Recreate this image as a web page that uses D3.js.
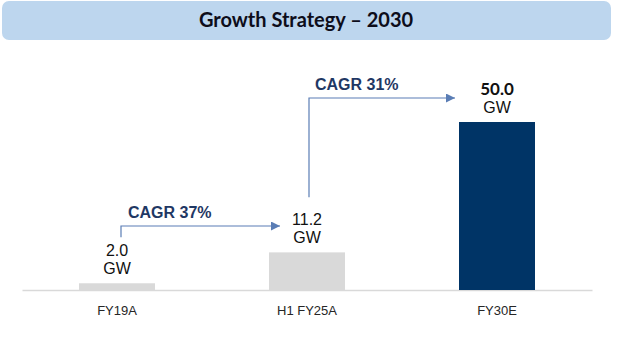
<!DOCTYPE html>
<html>
<head>
<meta charset="utf-8">
<script src="https://cdn.jsdelivr.net/npm/d3@7"></script>
<style>
  html, body { margin: 0; padding: 0; background: #ffffff; }
  svg { display: block; }
</style>
</head>
<body>
<svg id="chart" width="620" height="342"></svg>
<script>
// ---- data ----
const categories = ["FY19A", "H1 FY25A", "FY30E"];
const values = [2.0, 11.2, 50.0];
const valueLabels = ["2.0", "11.2", "50.0"];
const unitLabel = "GW";
const cagrLabels = ["CAGR 37%", "CAGR 31%"];
const title = "Growth Strategy \u2013 2030";

// ---- layout ----
const svg = d3.select("#chart");
const W = 620, H = 342;
const baseY = 290, topY = 122;

const x = d3.scaleBand().domain(categories).range([22, 592]).paddingInner(0.6).paddingOuter(0.3);
const y = d3.scaleLinear().domain([0, 50]).range([baseY, topY]);

const barColors = ["#d9d9d9", "#d9d9d9", "#003466"];
const navy = "#1f3864";
const arrowColor = "#5a7db5";

// title box
svg.append("rect")
  .attr("x", 2).attr("y", 1).attr("width", 609).attr("height", 39)
  .attr("rx", 7).attr("fill", "#bdd6ee");
svg.append("text")
  .attr("x", 306).attr("y", 27)
  .attr("text-anchor", "middle")
  .attr("font-family", "Lato, 'Open Sans', sans-serif")
  .attr("font-weight", 700)
  .attr("font-size", 20)
  .attr("fill", "#0d0d1a")
  .text(title);

// arrow marker
const defs = svg.append("defs");
defs.append("marker")
  .attr("id", "ah").attr("viewBox", "0 0 10 10")
  .attr("refX", 10).attr("refY", 5)
  .attr("markerWidth", 9).attr("markerHeight", 9)
  .attr("markerUnits", "userSpaceOnUse")
  .attr("orient", "auto")
  .append("path").attr("d", "M0,0 L10,5 L0,10 Z").attr("fill", arrowColor);

// baseline axis
const axis = d3.axisBottom(x).tickSize(0).tickPadding(16);
const gAxis = svg.append("g").attr("transform", `translate(0,${baseY})`).call(axis);
gAxis.select(".domain").attr("stroke", "#d9d9d9").attr("stroke-width", 1.5);
gAxis.selectAll(".tick text")
  .attr("font-family", "Arial, 'Liberation Sans', sans-serif")
  .attr("font-size", 13)
  .attr("fill", "#262626");

// bars
svg.selectAll("rect.bar").data(values).enter().append("rect")
  .attr("class", "bar")
  .attr("x", (d, i) => x(categories[i]))
  .attr("y", d => y(d))
  .attr("width", x.bandwidth())
  .attr("height", d => baseY - y(d))
  .attr("fill", (d, i) => barColors[i]);

// value labels
const cx = i => x(categories[i]) + x.bandwidth() / 2;
svg.selectAll("text.val").data(values).enter().append("text")
  .attr("class", "val")
  .attr("x", (d, i) => cx(i))
  .attr("y", d => y(d) - 27)
  .attr("text-anchor", "middle")
  .attr("font-family", (d, i) => i === 2 ? "Lato, sans-serif" : "Arial, 'Liberation Sans', sans-serif")
  .attr("font-weight", (d, i) => i === 2 ? 700 : 400)
  .attr("font-size", (d, i) => i === 2 ? 17 : 16)
  .attr("fill", "#111")
  .text((d, i) => valueLabels[i]);
svg.selectAll("text.unit").data(values).enter().append("text")
  .attr("class", "unit")
  .attr("x", (d, i) => cx(i))
  .attr("y", d => y(d) - 9)
  .attr("text-anchor", "middle")
  .attr("font-family", "Arial, 'Liberation Sans', sans-serif")
  .attr("font-size", 16)
  .attr("fill", "#111")
  .text(unitLabel);

// CAGR arrows
const arrows = [
  { x0: cx(0) + 4, yStart: y(values[0]) - 46, yTurn: 226, x1: x(categories[1]) + 11 },
  { x0: cx(1) + 2, yStart: y(values[1]) - 55, yTurn: 98, x1: x(categories[2]) - 4 }
];
svg.selectAll("path.arr").data(arrows).enter().append("path")
  .attr("class", "arr")
  .attr("d", a => `M${a.x0},${a.yStart} V${a.yTurn} H${a.x1}`)
  .attr("fill", "none")
  .attr("stroke", arrowColor)
  .attr("stroke-width", 1.2)
  .attr("marker-end", "url(#ah)");

svg.selectAll("text.cagr").data(arrows).enter().append("text")
  .attr("class", "cagr")
  .attr("x", (a, i) => a.x0 + (i === 0 ? 7 : 6))
  .attr("y", a => a.yTurn - 8)
  .attr("font-family", "Arial, 'Liberation Sans', sans-serif")
  .attr("font-weight", 700)
  .attr("font-size", 16)
  .attr("fill", navy)
  .text((a, i) => cagrLabels[i]);
</script>
</body>
</html>
